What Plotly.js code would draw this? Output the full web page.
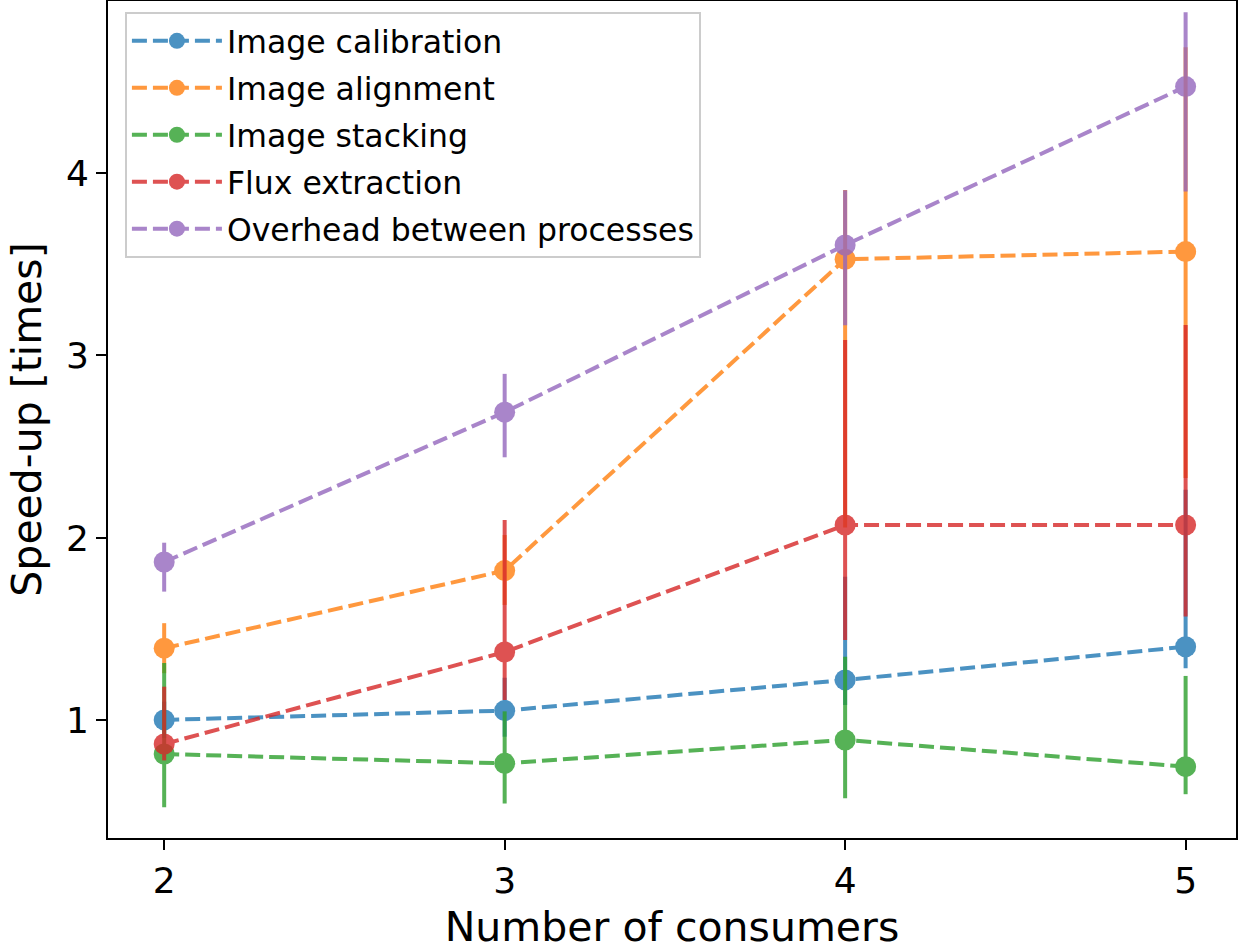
<!DOCTYPE html>
<html>
<head>
<meta charset="utf-8">
<script src="https://cdn.plot.ly/plotly-3.0.1.min.js"></script>
<style>html,body{margin:0;padding:0;background:#fff;}#chart{width:1247px;height:952px;}</style>
</head>
<body>
<div id="chart"></div>
<script>
const consumers = [2, 3, 4, 5];

const seriesNames = ["Image calibration", "Image alignment", "Image stacking", "Flux extraction", "Overhead between processes"];
const seriesColors = ["#1f77b4", "#ff7f0e", "#2ca02c", "#d62728", "#9467bd"];

const calibration = [1.003, 1.054, 1.222, 1.404];
const calibrationPlus = [0.10, 0.18, 0.566, 0.86];
const calibrationMinus = [0.10, 0.143, 0.137, 0.118];

const alignment = [1.396, 1.821, 3.527, 3.569];
const alignmentPlus = [0.137, 0.195, 0.38, 1.12];
const alignmentMinus = [0.137, 0.188, 1.47, 1.24];

const stacking = [0.816, 0.765, 0.893, 0.747];
const stackingPlus = [0.499, 0.285, 0.456, 0.497];
const stackingMinus = [0.292, 0.22, 0.319, 0.151];

const flux = [0.871, 1.375, 2.071, 2.071];
const fluxPlus = [0.314, 0.724, 1.014, 1.096];
const fluxMinus = [0.09, 0.263, 0.63, 0.502];

const overhead = [1.868, 2.689, 3.605, 4.473];
const overheadPlus = [0.106, 0.21, 0.30, 0.408];
const overheadMinus = [0.162, 0.247, 0.44, 0.575];

const xTickVals = [2, 3, 4, 5];
const yTickVals = [1, 2, 3, 4];

const allValues = [calibration, alignment, stacking, flux, overhead];
const allPlus = [calibrationPlus, alignmentPlus, stackingPlus, fluxPlus, overheadPlus];
const allMinus = [calibrationMinus, alignmentMinus, stackingMinus, fluxMinus, overheadMinus];

const traces = allValues.map((vals, i) => ({
  type: "scatter",
  mode: "lines+markers",
  name: seriesNames[i],
  legendgroup: "g" + i,
  x: consumers,
  y: vals,
  opacity: 0.8,
  line: {color: seriesColors[i], width: 4, dash: "15px,6px"},
  marker: {color: seriesColors[i], size: 21},
  error_y: {
    type: "data",
    symmetric: false,
    array: allPlus[i],
    arrayminus: allMinus[i],
    color: seriesColors[i],
    thickness: 4,
    width: 0
  }
}));

const fontFamily = "DejaVu Sans, sans-serif";

const layout = {
  width: 1247,
  height: 952,
  paper_bgcolor: "#ffffff",
  plot_bgcolor: "#ffffff",
  margin: {l: 108, r: 11, t: 1, b: 114},
  font: {family: fontFamily, color: "#000", size: 36},
  showlegend: true,
  legend: {
    x: 0.015, y: 0.987, xanchor: "left", yanchor: "top",
    bgcolor: "rgba(255,255,255,0.8)",
    bordercolor: "#cccccc",
    borderwidth: 2,
    font: {family: fontFamily, size: 31.5, color: "#000"},
    tracegroupgap: 3,
    itemwidth: 90
  },
  xaxis: {
    range: [1.835, 5.148],
    tickvals: xTickVals,
    ticktext: xTickVals.map(String),
    showgrid: false, zeroline: false,
    showline: true, linecolor: "#000", linewidth: 2, mirror: true,
    ticks: "outside", ticklen: 10, tickwidth: 2, tickcolor: "#000",
    tickfont: {family: fontFamily, size: 36, color: "#000"},
    title: {text: "Number of consumers", font: {family: fontFamily, size: 41, color: "#000"}, standoff: 12}
  },
  yaxis: {
    range: [0.356, 4.942],
    tickvals: yTickVals,
    ticktext: yTickVals.map(String),
    showgrid: false, zeroline: false,
    showline: true, linecolor: "#000", linewidth: 2, mirror: true,
    ticks: "outside", ticklen: 10, tickwidth: 2, tickcolor: "#000",
    tickfont: {family: fontFamily, size: 36, color: "#000"},
    title: {text: "Speed-up [times]", font: {family: fontFamily, size: 41, color: "#000"}, standoff: 12}
  }
};

Plotly.newPlot("chart", traces, layout, {displayModeBar: false, staticPlot: true});
</script>
</body>
</html>
